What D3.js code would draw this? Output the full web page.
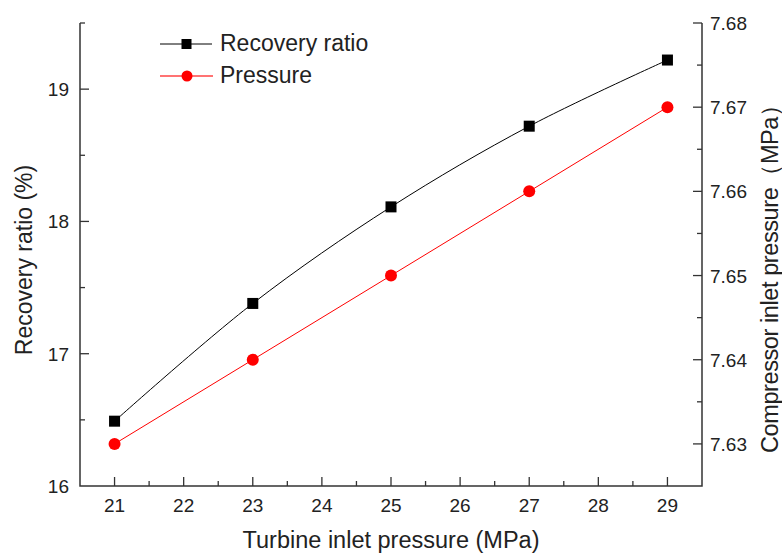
<!DOCTYPE html>
<html>
<head>
<meta charset="utf-8">
<script src="https://cdn.jsdelivr.net/npm/d3@7"></script>
<style>
  body { margin: 0; background: #fff; }
  text { font-family: "Liberation Sans", Arial, sans-serif; fill: #222; }
</style>
</head>
<body>
<div id="chart"></div>
<script>
// data
const turbinePressure = [21, 23, 25, 27, 29]
const recoveryRatio = [16.49, 17.38, 18.11, 18.72, 19.22]
const compressorPressure = [7.63, 7.64, 7.65, 7.66, 7.67]
const xTicks = [21, 22, 23, 24, 25, 26, 27, 28, 29]
const yLeftTicks = [16, 17, 18, 19]
const yRightTicks = [7.63, 7.64, 7.65, 7.66, 7.67, 7.68]

const width = 782
const height = 554
const plotLeft = 80, plotRight = 702, plotTop = 23, plotBottom = 486

const svg = d3.select("#chart")
  .append("svg")
  .attr("width", width)
  .attr("height", height)

const x = d3.scaleLinear().domain([20.5, 29.5]).range([plotLeft, plotRight])
const yL = d3.scaleLinear().domain([16, 19.5]).range([plotBottom, plotTop])
const yR = d3.scaleLinear().domain([7.625, 7.68]).range([plotBottom, plotTop])

const axisColor = "#333"

// frame lines (left, bottom, right)
svg.append("path")
  .attr("d", `M${plotLeft},${plotTop}V${plotBottom}H${plotRight}V${plotTop}`)
  .attr("fill", "none")
  .attr("stroke", axisColor)
  .attr("stroke-width", 1.5)

// ticks - inward
function drawTicks(vals, pos, len, orient) {
  svg.append("g").selectAll("line")
    .data(vals)
    .enter().append("line")
    .attr("x1", d => orient == "x" ? x(d) : pos)
    .attr("x2", d => orient == "x" ? x(d) : pos + len)
    .attr("y1", d => orient == "x" ? plotBottom : (orient == "yl" ? yL(d) : yR(d)))
    .attr("y2", d => orient == "x" ? plotBottom - len : (orient == "yl" ? yL(d) : yR(d)))
    .attr("stroke", axisColor)
    .attr("stroke-width", 1.3)
}

const xMinor = d3.range(21.5, 29.5, 1)
drawTicks(xTicks, 0, 9, "x")
drawTicks(xMinor, 0, 5, "x")
drawTicks(yLeftTicks.slice(1), plotLeft, 9, "yl")
drawTicks([16.5, 17.5, 18.5, 19.5], plotLeft, 5, "yl")
drawTicks(yRightTicks.slice(0, -1), plotRight, -9, "yr")
drawTicks([7.635, 7.645, 7.655, 7.665, 7.675], plotRight, -5, "yr")
drawTicks([7.68], plotRight, -9, "yr")

// tick labels
const tickFont = "19px"
svg.append("g").selectAll("text")
  .data(xTicks)
  .enter().append("text")
  .attr("x", d => x(d))
  .attr("y", plotBottom + 26)
  .attr("text-anchor", "middle")
  .style("font-size", tickFont)
  .text(d => d)

svg.append("g").selectAll("text")
  .data(yLeftTicks)
  .enter().append("text")
  .attr("x", plotLeft - 11)
  .attr("y", d => yL(d) + 7)
  .attr("text-anchor", "end")
  .style("font-size", tickFont)
  .text(d => d)

svg.append("g").selectAll("text")
  .data(yRightTicks)
  .enter().append("text")
  .attr("x", plotRight + 8)
  .attr("y", d => yR(d) + 7)
  .attr("text-anchor", "start")
  .style("font-size", tickFont)
  .text(d => d.toFixed(2))

// axis titles
svg.append("text")
  .attr("x", (plotLeft + plotRight) / 2)
  .attr("y", 548)
  .attr("text-anchor", "middle")
  .style("font-size", "23.5px")
  .text("Turbine inlet pressure (MPa)")

svg.append("text")
  .attr("transform", "translate(32,260) rotate(-90)")
  .attr("text-anchor", "middle")
  .style("font-size", "23px")
  .text("Recovery ratio (%)")

svg.append("text")
  .attr("transform", "translate(778,273) rotate(-90)")
  .attr("text-anchor", "middle")
  .attr("textLength", 360)
  .attr("lengthAdjust", "spacing")
  .style("font-size", "23.5px")
  .text("Compressor inlet pressure（MPa）")

// series
const recData = turbinePressure.map((t, i) => [t, recoveryRatio[i]])
const presData = turbinePressure.map((t, i) => [t, compressorPressure[i]])

svg.append("path")
  .datum(recData)
  .attr("fill", "none")
  .attr("stroke", "#000")
  .attr("stroke-width", 1)
  .attr("d", d3.line().x(d => x(d[0])).y(d => yL(d[1])).curve(d3.curveCatmullRom))

svg.append("path")
  .datum(presData)
  .attr("fill", "none")
  .attr("stroke", "#f00")
  .attr("stroke-width", 1)
  .attr("d", d3.line().x(d => x(d[0])).y(d => yR(d[1])))

svg.append("g").selectAll("rect")
  .data(recData)
  .enter().append("rect")
  .attr("x", d => x(d[0]) - 5.5)
  .attr("y", d => yL(d[1]) - 5.5)
  .attr("width", 11)
  .attr("height", 11)
  .attr("fill", "#000")

svg.append("g").selectAll("circle")
  .data(presData)
  .enter().append("circle")
  .attr("cx", d => x(d[0]))
  .attr("cy", d => yR(d[1]))
  .attr("r", 6)
  .attr("fill", "#f00")

// legend
const legend = svg.append("g")
legend.append("line").attr("x1", 160).attr("x2", 212).attr("y1", 44).attr("y2", 44)
  .attr("stroke", "#000").attr("stroke-width", 1)
legend.append("rect").attr("x", 181.5).attr("y", 39).attr("width", 10).attr("height", 10).attr("fill", "#000")
legend.append("text").attr("x", 220).attr("y", 51).style("font-size", "23px").text("Recovery ratio")

legend.append("line").attr("x1", 160).attr("x2", 213).attr("y1", 76).attr("y2", 76)
  .attr("stroke", "#f44").attr("stroke-width", 1.5)
legend.append("circle").attr("cx", 187).attr("cy", 76).attr("r", 5.5).attr("fill", "#f00")
legend.append("text").attr("x", 220).attr("y", 83).style("font-size", "23px").text("Pressure")
</script>
</body>
</html>
